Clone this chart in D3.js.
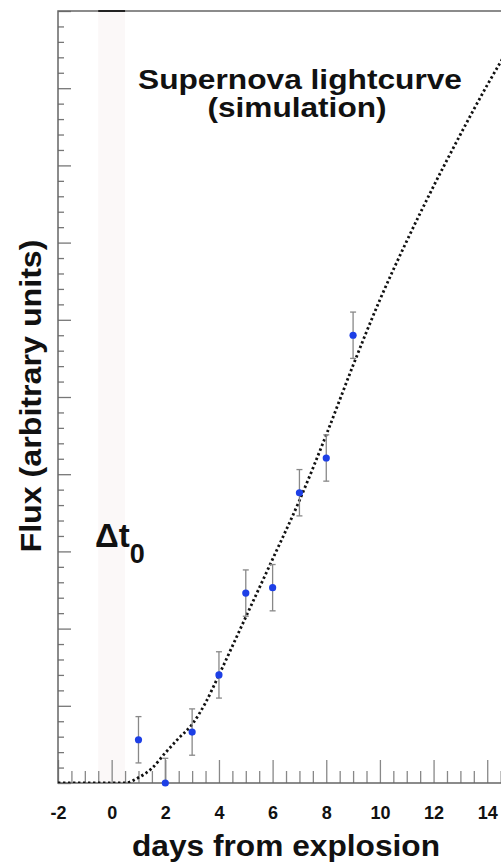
<!DOCTYPE html>
<html>
<head>
<meta charset="utf-8">
<script src="https://cdn.jsdelivr.net/npm/d3@7"></script>
<style>
  body { margin: 0; background: #fff; }
  svg text { font-family: "Liberation Sans", Arial, sans-serif; font-weight: bold; fill: #111; }
</style>
</head>
<body>
<svg id="chart" width="501" height="866"></svg>
<script>
// Measured points (days from explosion, flux, error)
var days = [1, 2, 3, 4, 5, 6, 7, 8, 9];
var flux = [0.56, 0, 0.66, 1.40, 2.46, 2.53, 3.76, 4.21, 5.80];
var fluxErr = [0.30, 0.32, 0.30, 0.30, 0.30, 0.30, 0.30, 0.30, 0.30];

// Simulated lightcurve
var curveDays = [-2, 0, 0.5, 1, 1.5, 2, 2.5, 3, 3.5, 4, 5, 6, 7, 8, 9, 10, 11, 12, 13, 14, 14.6];
var curveFlux = [0, 0, 0, 0.07, 0.19, 0.39, 0.58, 0.76, 1.04, 1.40, 2.15, 2.90, 3.66, 4.51, 5.41, 6.26, 7.02, 7.73, 8.40, 9.04, 9.40];

// Axis ticks
var xMajor = [-2, 0, 2, 4, 6, 8, 10, 12, 14];
var xTickLabels = ["-2", "0", "2", "4", "6", "8", "10", "12", "14"];
var band = [-0.5, 0.5];

var svg = d3.select("#chart");

// Define scales
var xScale = d3.scaleLinear().domain([-2, 14.7]).range([58, 506]);
var yScale = d3.scaleLinear().domain([0, 10]).range([783, 11]);

var plotL = xScale(-2), plotR = xScale(14.7), plotT = yScale(10), plotB = yScale(0);

svg.append("clipPath").attr("id", "plot")
    .append("rect")
    .attr("x", plotL).attr("y", plotT)
    .attr("width", plotR - plotL).attr("height", plotB - plotT);

// Delta t0 band (very faint)
svg.append("rect")
    .attr("x", xScale(band[0]))
    .attr("y", plotT)
    .attr("width", xScale(band[1]) - xScale(band[0]))
    .attr("height", plotB - plotT)
    .attr("fill", "#fbf8f8");

// Minor / major ticks on x (pointing up)
var xMinor = d3.range(-2, 14.6, 0.5).filter(function (d) { return d % 2 !== 0; });

svg.append("g")
    .attr("transform", "translate(0," + plotB + ")")
    .call(d3.axisTop(xScale).tickValues(xMinor).tickSize(12).tickFormat(""))
    .call(function (g) {
        g.select(".domain").remove();
        g.selectAll("line").attr("stroke", "#888").attr("stroke-width", 1.3);
    });

svg.append("g")
    .attr("transform", "translate(0," + plotB + ")")
    .call(d3.axisTop(xScale).tickValues(xMajor).tickSize(23).tickFormat(""))
    .call(function (g) {
        g.select(".domain").remove();
        g.selectAll("line").attr("stroke", "#888").attr("stroke-width", 1.3);
    });

// x tick labels
svg.append("g")
    .attr("transform", "translate(0," + plotB + ")")
    .call(d3.axisBottom(xScale).tickValues(xMajor).tickSize(0).tickPadding(23)
        .tickFormat(function (d, i) { return xTickLabels[i]; }))
    .call(function (g) {
        g.select(".domain").remove();
        g.selectAll("text").attr("font-size", 18).attr("fill", "#111");
    });

// y ticks (pointing right)
var yMinor = d3.range(0, 10.01, 0.2).filter(function (d) { return Math.abs(d - Math.round(d)) > 0.01; });
var yMajor = d3.range(0, 11, 1);

svg.append("g")
    .attr("transform", "translate(" + plotL + ",0)")
    .call(d3.axisRight(yScale).tickValues(yMinor).tickSize(6).tickFormat(""))
    .call(function (g) {
        g.select(".domain").remove();
        g.selectAll("line").attr("stroke", "#777").attr("stroke-width", 1.3);
    });

svg.append("g")
    .attr("transform", "translate(" + plotL + ",0)")
    .call(d3.axisRight(yScale).tickValues(yMajor).tickSize(13).tickFormat(""))
    .call(function (g) {
        g.select(".domain").remove();
        g.selectAll("line").attr("stroke", "#777").attr("stroke-width", 1.3);
    });

// Frame
svg.append("path")
    .attr("d", "M" + plotR + "," + plotT + "H" + plotL + "V" + plotB + "H" + plotR)
    .attr("fill", "none")
    .attr("stroke", "#666")
    .attr("stroke-width", 1.5);

svg.append("line")
    .attr("x1", xScale(band[0])).attr("x2", xScale(band[1]))
    .attr("y1", plotT).attr("y2", plotT)
    .attr("stroke", "#222").attr("stroke-width", 2);

// Simulated lightcurve
var line = d3.line()
    .curve(d3.curveMonotoneX)
    .x(function (d, i) { return xScale(d); })
    .y(function (d, i) { return yScale(curveFlux[i]); });

svg.append("path")
    .attr("clip-path", "url(#plot)")
    .attr("d", line(curveDays))
    .attr("fill", "none")
    .attr("stroke", "#111")
    .attr("stroke-width", 2.8)
    .attr("stroke-dasharray", "2.4,2.6");

// Error bars
var pts = days.map(function (d, i) { return { day: d, flux: flux[i], err: fluxErr[i] }; });

var bars = svg.selectAll(".err").data(pts).enter().append("g").attr("class", "err")
    .attr("stroke", "#888").attr("stroke-width", 1.3);

bars.append("line")
    .attr("x1", function (d) { return xScale(d.day); })
    .attr("x2", function (d) { return xScale(d.day); })
    .attr("y1", function (d) { return yScale(d.flux + d.err); })
    .attr("y2", function (d) { return Math.min(plotB, yScale(d.flux - d.err)); });

bars.append("line")
    .attr("x1", function (d) { return xScale(d.day) - 3; })
    .attr("x2", function (d) { return xScale(d.day) + 3; })
    .attr("y1", function (d) { return yScale(d.flux + d.err); })
    .attr("y2", function (d) { return yScale(d.flux + d.err); });

bars.filter(function (d) { return d.flux - d.err > 0; })
    .append("line")
    .attr("x1", function (d) { return xScale(d.day) - 3; })
    .attr("x2", function (d) { return xScale(d.day) + 3; })
    .attr("y1", function (d) { return yScale(d.flux - d.err); })
    .attr("y2", function (d) { return yScale(d.flux - d.err); });

// Points
svg.selectAll(".pt").data(pts).enter().append("circle")
    .attr("class", "pt")
    .attr("cx", function (d) { return xScale(d.day); })
    .attr("cy", function (d) { return yScale(d.flux); })
    .attr("r", 3.6)
    .attr("fill", "#1d3fe6");

// Title
svg.append("text")
    .attr("x", 300).attr("y", 89)
    .attr("text-anchor", "middle")
    .attr("font-size", 28)
    .attr("textLength", 324).attr("lengthAdjust", "spacingAndGlyphs")
    .text("Supernova lightcurve");

svg.append("text")
    .attr("x", 297).attr("y", 117)
    .attr("text-anchor", "middle")
    .attr("font-size", 28)
    .attr("textLength", 179).attr("lengthAdjust", "spacingAndGlyphs")
    .text("(simulation)");

// Delta t0 label
var dt = svg.append("text")
    .attr("x", 95).attr("y", 547)
    .attr("font-size", 33);
dt.append("tspan").text("\u0394t");
dt.append("tspan").attr("font-size", 27).attr("dy", 16).text("0");

// Axis titles
svg.append("text")
    .attr("x", 286).attr("y", 856)
    .attr("text-anchor", "middle")
    .attr("font-size", 29)
    .attr("textLength", 308).attr("lengthAdjust", "spacingAndGlyphs")
    .text("days from explosion");

svg.append("text")
    .attr("transform", "translate(41,396) rotate(-90)")
    .attr("text-anchor", "middle")
    .attr("font-size", 30)
    .attr("textLength", 313).attr("lengthAdjust", "spacingAndGlyphs")
    .text("Flux (arbitrary units)");
</script>
</body>
</html>
